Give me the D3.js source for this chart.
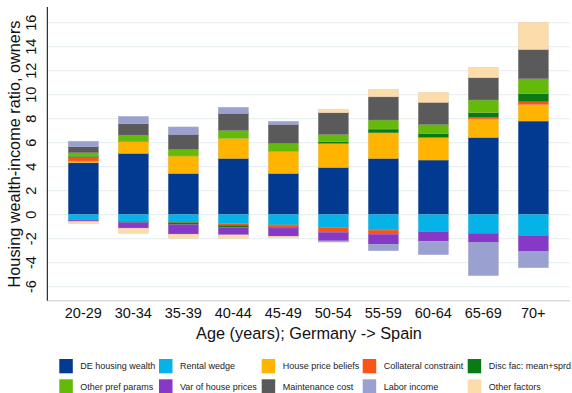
<!DOCTYPE html>
<html>
<head>
<meta charset="utf-8">
<script src="https://cdn.jsdelivr.net/npm/d3@7"></script>
<style>
body{margin:0;background:#fff;font-family:"Liberation Sans",Arial,sans-serif}
</style>
</head>
<body>
<main></main>
<script>
const ages=["20-29","30-34","35-39","40-44","45-49","50-54","55-59","60-64","65-69","70+"]
const factors=["DE housing wealth","Rental wedge","House price beliefs","Collateral constraint","Disc fac: mean+sprd",
  "Other pref params","Var of house prices","Maintenance cost","Labor income","Other factors"]
const colors=["#023a92","#06b3e8","#ffb400","#fa5514","#0a7a14","#64ba08","#8639c6","#5a5a5a","#9aa1d0","#fcdcab"]
const deWealth=[4.33,5.12,3.45,4.70,3.45,3.95,4.70,4.56,6.45,7.81]
const rentalWedge=[-0.45,-0.58,-0.63,-0.72,-0.86,-1.08,-1.28,-1.42,-1.55,-1.75]
const priceBeliefs=[0.14,0.96,1.44,1.67,1.83,2.00,2.13,1.89,1.53,1.39]
const collateral=[0.31,0.05,-0.04,-0.16,-0.19,-0.39,-0.35,0,0.14,0.22]
const discFac=[0.10,-0.09,-0.17,-0.17,-0.05,0.13,0.31,0.33,0.38,0.69]
const otherPref=[0.29,0.50,0.56,0.66,0.67,0.62,0.75,0.75,1.06,1.22]
const varPrices=[-0.13,-0.46,-0.79,-0.64,-0.70,-0.72,-0.84,-0.80,-0.78,-1.33]
const maintenance=[0.50,0.95,1.25,1.42,1.58,1.80,1.94,1.84,1.86,2.45]
const laborIncome=[0.45,0.61,0.61,0.50,0.25,-0.08,-0.53,-1.11,-2.75,-1.34]
const otherFactors=[-0.17,-0.42,-0.34,-0.28,-0.13,0.28,0.62,0.83,0.86,2.25]
const yTicks=[-6,-4,-2,0,2,4,6,8,10,12,14,16]

const series=[deWealth,rentalWedge,priceBeliefs,collateral,discFac,otherPref,varPrices,maintenance,laborIncome,otherFactors]
const rows=ages.map((a,i)=>{
  const r={age:a}
  factors.forEach((f,j)=>r[f]=series[j][i])
  return r
})

const w=572, h=393
const svg=d3.select("main").append("svg").attr("width",w).attr("height",h)

const x=d3.scaleBand().domain(ages).range([58.3,558.3]).paddingInner(0.4).paddingOuter(0.2)
const y=d3.scaleLinear().domain([-7.17,17.31]).range([300.7,7])
const color=d3.scaleOrdinal().domain(factors).range(colors)

svg.append("g").selectAll("line").data(yTicks).enter().append("line")
  .attr("x1",47).attr("x2",570)
  .attr("y1",d=>y(d)).attr("y2",d=>y(d))
  .attr("stroke","#e9f0f2").attr("stroke-width",1.2)

const stacked=d3.stack().keys(factors).offset(d3.stackOffsetDiverging)(rows)
svg.append("g").selectAll("g").data(stacked).enter().append("g")
  .attr("fill",d=>color(d.key))
  .attr("stroke",d=>d3.interpolateRgb(color(d.key),"#c8c8c8")(0.35))
  .attr("stroke-width",0.6)
  .selectAll("rect").data(d=>d.filter(v=>v[1]-v[0]!==0)).enter().append("rect")
  .attr("x",d=>x(d.data.age))
  .attr("width",x.bandwidth())
  .attr("y",d=>y(d[1]))
  .attr("height",d=>y(d[0])-y(d[1]))

svg.append("line").attr("x1",47).attr("x2",570).attr("y1",300.7).attr("y2",300.7)
  .attr("stroke","#dcdcdc").attr("stroke-width",1.5)
svg.append("line").attr("x1",47.3).attr("x2",47.3).attr("y1",7).attr("y2",300.7)
  .attr("stroke","#000").attr("stroke-width",1)

svg.append("g").selectAll("text").data(yTicks).enter().append("text")
  .attr("transform",d=>"translate(35.5,"+y(d)+") rotate(-90)")
  .attr("text-anchor","middle")
  .style("font-size","14.5px").attr("fill","#111")
  .text(d=>String(d))

svg.append("g").selectAll("text").data(ages).enter().append("text")
  .attr("x",d=>x(d)+x.bandwidth()/2).attr("y",318.3)
  .attr("text-anchor","middle")
  .style("font-size","14.5px").attr("fill","#111")
  .text(d=>d)

svg.append("text").attr("x",309).attr("y",338.5).attr("text-anchor","middle")
  .style("font-size","16.3px").attr("fill","#111")
  .text("Age (years); Germany -> Spain")
svg.append("text").attr("transform","translate(20,154) rotate(-90)").attr("text-anchor","middle")
  .style("font-size","16.3px").attr("fill","#111")
  .text("Housing wealth-income ratio, owners")

const legendX=[59.3,159,261.7,362.7,467.7]
const legend=svg.append("g").selectAll("g").data(factors).enter().append("g")
  .attr("transform",(d,i)=>"translate("+legendX[i%5]+","+(359+Math.floor(i/5)*20.3)+")")
legend.append("rect").attr("width",13.5).attr("height",14.3).attr("fill",d=>color(d))
legend.append("text").attr("x",21).attr("y",10.4)
  .style("font-size","9px").attr("fill","#222")
  .text(d=>d)
</script>
</body>
</html>
